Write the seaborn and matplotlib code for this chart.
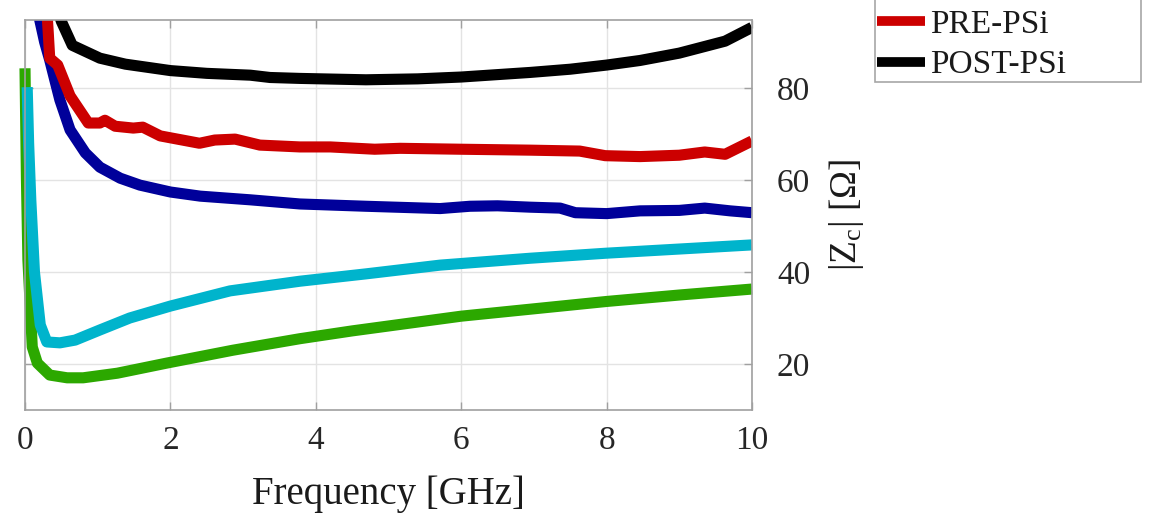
import numpy as np
import pandas as pd
import matplotlib
matplotlib.use("Agg")
import matplotlib.pyplot as plt
from matplotlib.lines import Line2D
import seaborn as sns

# ---------------- data ----------------
green_x = [0.0, 0.02, 0.04, 0.10, 0.17, 0.34, 0.58, 0.80, 1.27, 1.95, 2.86, 3.78, 4.5, 6.0, 8.0, 9.0, 10.0]
green_y = [84.3, 60.0, 42.6, 23.7, 20.2, 17.6, 17.0, 17.0, 18.0, 20.2, 23.0, 25.5, 27.2, 30.4, 33.6, 35.0, 36.3]

cyan_x = [0.03, 0.05, 0.08, 0.13, 0.21, 0.30, 0.48, 0.69, 1.03, 1.44, 2.0, 2.82, 3.78, 4.69, 5.71, 6.95, 8.0, 9.0, 10.0]
cyan_y = [80.2, 68.0, 55.6, 40.0, 28.5, 24.8, 24.6, 25.2, 27.4, 30.0, 32.6, 35.9, 38.0, 39.6, 41.5, 43.0, 44.1, 45.0, 45.9]

blue_x = [0.17, 0.20, 0.27, 0.34, 0.48, 0.62, 0.83, 1.03, 1.31, 1.58, 2.0, 2.41, 3.1, 3.78, 4.69, 5.71,
          6.12, 6.5, 6.95, 7.36, 7.57, 8.0, 8.46, 9.0, 9.35, 9.7, 10.0]
blue_y = [100.0, 95.0, 90.0, 86.1, 77.4, 70.9, 65.9, 62.8, 60.4, 58.9, 57.4, 56.5, 55.7, 54.8, 54.3, 53.8,
          54.3, 54.4, 54.1, 53.9, 52.9, 52.7, 53.3, 53.4, 53.9, 53.3, 52.9]

red_x = [0.30, 0.32, 0.34, 0.45, 0.62, 0.87, 1.03, 1.10, 1.24, 1.49, 1.62, 1.86, 2.4, 2.61, 2.89, 3.23,
         3.78, 4.2, 4.81, 5.16, 6.0, 6.95, 7.63, 7.98, 8.46, 9.0, 9.35, 9.63, 10.0]
red_y = [97.0, 92.0, 86.5, 85.0, 78.3, 72.4, 72.4, 73.0, 71.7, 71.3, 71.5, 69.6, 68.0, 68.7, 68.9, 67.6,
         67.2, 67.2, 66.7, 66.9, 66.7, 66.5, 66.3, 65.3, 65.1, 65.4, 66.1, 65.6, 68.5]

black_x = [0.45, 0.50, 0.65, 1.03, 1.38, 2.0, 2.5, 3.1, 3.37, 3.78, 4.69, 5.4, 6.0, 6.95, 7.5, 8.0,
           8.46, 9.0, 9.63, 10.0]
black_y = [97.0, 94.5, 89.3, 86.5, 85.2, 83.8, 83.2, 82.8, 82.3, 82.1, 81.8, 82.0, 82.4, 83.4, 84.1, 85.0,
           86.0, 87.6, 90.2, 93.2]

x_ticks = [0, 2, 4, 6, 8, 10]
y_ticks = [20, 40, 60, 80]
legend_labels = ["PRE-PSi", "POST-PSi"]

# ---------------- style ----------------
sns.set_theme(style="white")
plt.rcParams["font.family"] = ["Liberation Serif", "DejaVu Serif"]
plt.rcParams["mathtext.fontset"] = "custom"
plt.rcParams["mathtext.rm"] = "Liberation Serif"
plt.rcParams["mathtext.it"] = "Liberation Serif"

fig = plt.figure(figsize=(11.52, 5.2), dpi=100)
ax = fig.add_axes([25 / 1152, 1 - 410 / 520, (752 - 25) / 1152, (410 - 20) / 520])

LW = 8.0
series = [
    (green_x, green_y, "#2CA800", None, False),
    (cyan_x, cyan_y, "#00B4CC", None, False),
    (blue_x, blue_y, "#00009A", None, True),
    (red_x, red_y, "#CC0000", legend_labels[0], True),
    (black_x, black_y, "#000000", legend_labels[1], True),
]
for xs, ys, col, lab, clip in series:
    df = pd.DataFrame({"f": xs, "z": ys})
    sns.lineplot(data=df, x="f", y="z", color=col, lw=LW, ax=ax, legend=False,
                 sort=False, estimator=None)
    ln = ax.get_lines()[-1]
    ln.set_solid_capstyle("butt")
    ln.set_solid_joinstyle("round")
    ln.set_clip_on(clip)

ax.set_xlim(0, 10)
ax.set_ylim(10, 94.8)
ax.set_xticks(x_ticks)
ax.set_yticks(y_ticks)
ax.yaxis.tick_right()
ax.yaxis.set_label_position("right")
ax.tick_params(axis="both", which="both", direction="in", length=6, width=1, color="#A0A0A0",
               top=True, bottom=True, left=True, right=True, labelsize=24, labelcolor="#262626")
ax.tick_params(axis="x", pad=11)
ax.tick_params(axis="y", pad=18)
ax.grid(True, color="#E3E3E3", lw=1)
for s in ax.spines.values():
    s.set_visible(True)
    s.set_color("#A0A0A0")
    s.set_linewidth(1.2)

ax.set_xlabel("Frequency [GHz]", fontsize=28, color="#1a1a1a", labelpad=14)
ax.set_ylabel(r"|Z$_\mathrm{c}$| [Ω]", fontsize=27, color="#1a1a1a", labelpad=12)

handles = [Line2D([], [], color="none", label=" "),
           Line2D([], [], color="#CC0000", lw=7.0, solid_capstyle="butt"),
           Line2D([], [], color="#000000", lw=7.0, solid_capstyle="butt")]
labels = [" ", legend_labels[0], legend_labels[1]]
leg = fig.legend(handles, labels, loc="lower left", mode="expand",
                 bbox_to_anchor=(875 / 1152, 1 - 82 / 520, (1141 - 875) / 1152, 0.3),
                 fontsize=24, frameon=True, fancybox=False, handlelength=1.45, handletextpad=0.15,
                 labelspacing=0.3, borderpad=0.05, borderaxespad=0)
leg.get_frame().set_edgecolor("#909090")
leg.get_frame().set_linewidth(1.2)
for t in leg.get_texts():
    t.set_color("#1a1a1a")

fig.savefig("out.png", dpi=100)
